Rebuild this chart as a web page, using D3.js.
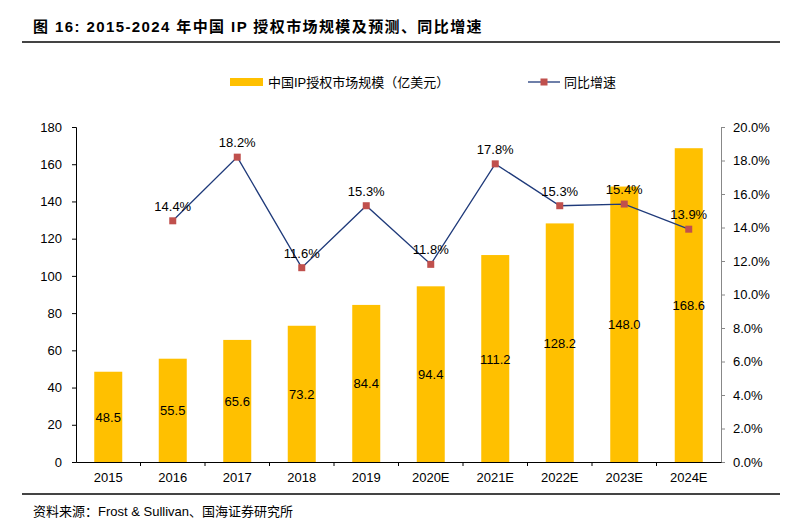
<!DOCTYPE html>
<html>
<head>
<meta charset="utf-8">
<script src="https://cdn.jsdelivr.net/npm/d3@7"></script>
<style>
body { margin: 0; background: #fff; }
svg text { font-family: "Liberation Sans", Arial, "Noto Sans CJK SC", sans-serif; }
</style>
</head>
<body>
<svg width="792" height="530"></svg>
<script>
// data
var years = ["2015", "2016", "2017", "2018", "2019", "2020E", "2021E", "2022E", "2023E", "2024E"];
var marketSize = [48.5, 55.5, 65.6, 73.2, 84.4, 94.4, 111.2, 128.2, 148.0, 168.6];
var growth = [null, 14.4, 18.2, 11.6, 15.3, 11.8, 17.8, 15.3, 15.4, 13.9];
var leftTicks = [0, 20, 40, 60, 80, 100, 120, 140, 160, 180];
var rightTicks = [0, 2, 4, 6, 8, 10, 12, 14, 16, 18, 20];

var svg = d3.select("svg");
var plotLeft = 76, plotRight = 721, plotTop = 127, plotBottom = 462;

var x = d3.scaleBand().domain(years).range([plotLeft, plotRight]);
var yL = d3.scaleLinear().domain([0, 180]).range([plotBottom, plotTop]);
var yR = d3.scaleLinear().domain([0, 20]).range([plotBottom, plotTop]);

// title + rules
svg.append("text")
    .attr("x", 33).attr("y", 32)
    .attr("font-size", 15).attr("font-weight", "bold")
    .style("letter-spacing", "1.4px")
    .text("图 16:  2015-2024 年中国 IP 授权市场规模及预测、同比增速");
svg.append("line").attr("x1", 22).attr("x2", 780).attr("y1", 42).attr("y2", 42)
    .attr("stroke", "#444").attr("stroke-width", 2);
svg.append("line").attr("x1", 22).attr("x2", 780).attr("y1", 494).attr("y2", 494)
    .attr("stroke", "#444").attr("stroke-width", 2);
svg.append("text")
    .attr("x", 33).attr("y", 516)
    .attr("font-size", 13)
    .text("资料来源：Frost & Sullivan、国海证券研究所");

// bars
var bw = 28;
svg.selectAll(".bar")
    .data(marketSize)
    .enter().append("rect")
    .attr("class", "bar")
    .attr("x", function (d, i) { return x(years[i]) + x.bandwidth() / 2 - bw / 2 })
    .attr("y", function (d) { return yL(d) })
    .attr("width", bw)
    .attr("height", function (d) { return plotBottom - yL(d) })
    .attr("fill", "#FFC000");

svg.selectAll(".barlabel")
    .data(marketSize)
    .enter().append("text")
    .attr("class", "barlabel")
    .attr("x", function (d, i) { return x(years[i]) + x.bandwidth() / 2 })
    .attr("y", function (d) { return (yL(d) + plotBottom) / 2 + 5 })
    .attr("text-anchor", "middle")
    .attr("font-size", 13)
    .text(function (d) { return d.toFixed(1) });

// axes
var axL = svg.append("g").attr("transform", "translate(" + plotLeft + ",0)")
    .call(d3.axisLeft(yL).tickValues(leftTicks).tickSize(4).tickPadding(10));
axL.selectAll("text").attr("font-size", 13).attr("fill", "#000");
axL.selectAll("path,line").attr("stroke", "#000");

var axR = svg.append("g").attr("transform", "translate(" + plotRight + ",0)")
    .call(d3.axisRight(yR).tickValues(rightTicks).tickSize(4).tickPadding(8)
        .tickFormat(function (d) { return d.toFixed(1) + "%" }));
axR.selectAll("text").attr("font-size", 13).attr("fill", "#000");
axR.selectAll("path,line").attr("stroke", "#888");

var axB = svg.append("g").attr("transform", "translate(0," + plotBottom + ")")
    .call(d3.axisBottom(x).tickSize(0).tickPadding(11));
axB.select(".domain").attr("stroke", "#000");
axB.selectAll("text").attr("font-size", 13).attr("fill", "#000");
// ticks between categories
axB.selectAll(".sep")
    .data(years.slice(1))
    .enter().append("line")
    .attr("class", "sep")
    .attr("x1", function (d) { return x(d) }).attr("x2", function (d) { return x(d) })
    .attr("y1", 0).attr("y2", 4)
    .attr("stroke", "#000");

// growth line
var pts = growth.map(function (d, i) { return { year: years[i], v: d } })
    .filter(function (d) { return d.v != null });
var line = d3.line()
    .x(function (d) { return x(d.year) + x.bandwidth() / 2 })
    .y(function (d) { return yR(d.v) });
svg.append("path").datum(pts)
    .attr("d", line).attr("fill", "none")
    .attr("stroke", "#1F3A7A").attr("stroke-width", 1.3);
svg.selectAll(".mk")
    .data(pts)
    .enter().append("rect")
    .attr("class", "mk")
    .attr("x", function (d) { return x(d.year) + x.bandwidth() / 2 - 3.5 })
    .attr("y", function (d) { return yR(d.v) - 3.5 })
    .attr("width", 7).attr("height", 7)
    .attr("fill", "#C0504D");
svg.selectAll(".ptlabel")
    .data(pts)
    .enter().append("text")
    .attr("class", "ptlabel")
    .attr("x", function (d) { return x(d.year) + x.bandwidth() / 2 })
    .attr("y", function (d) { return yR(d.v) - 10 })
    .attr("text-anchor", "middle")
    .attr("font-size", 13)
    .text(function (d) { return d.v.toFixed(1) + "%" });

// legend
var lg = svg.append("g");
lg.append("rect").attr("x", 230).attr("y", 78).attr("width", 33).attr("height", 8).attr("fill", "#FFC000");
lg.append("text").attr("x", 268).attr("y", 87).attr("font-size", 13)
    .text("中国IP授权市场规模（亿美元）");
lg.append("line").attr("x1", 528).attr("x2", 560).attr("y1", 82).attr("y2", 82)
    .attr("stroke", "#1F3A7A").attr("stroke-width", 1.3);
lg.append("rect").attr("x", 540.5).attr("y", 78.5).attr("width", 7).attr("height", 7).attr("fill", "#C0504D");
lg.append("text").attr("x", 564).attr("y", 87).attr("font-size", 13).text("同比增速");
</script>
</body>
</html>
